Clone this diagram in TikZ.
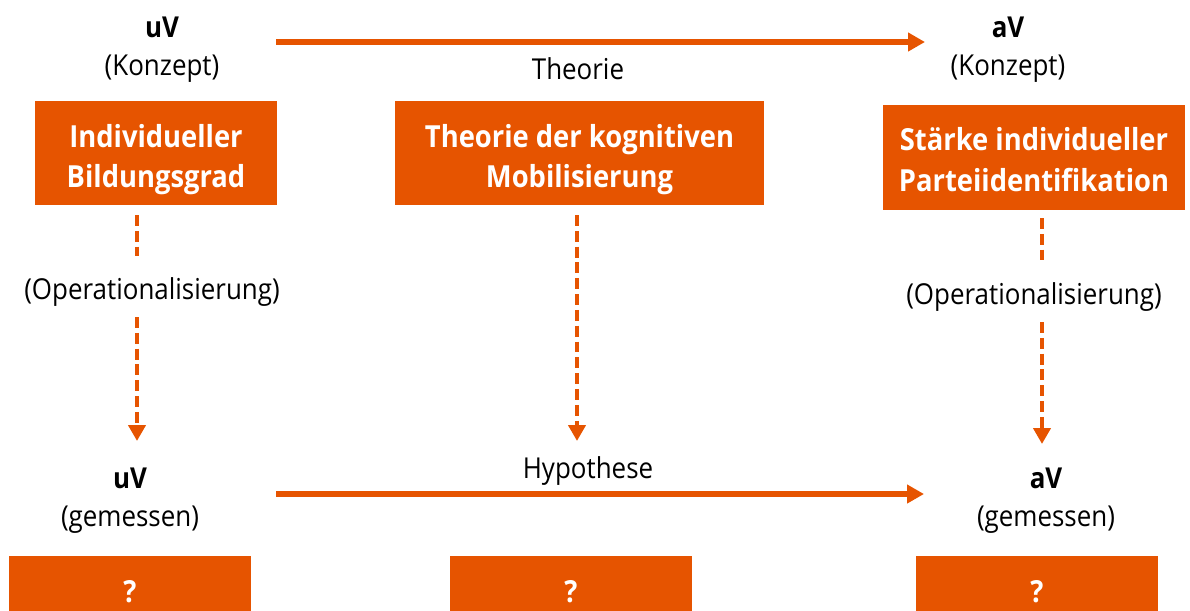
\documentclass[tikz,border=0pt]{standalone}
\usepackage{fontspec}
\setmainfont[FakeStretch=0.9]{Open Sans}
\usetikzlibrary{arrows.meta}
\definecolor{uniorange}{RGB}{230,84,0}

\begin{document}
\begin{tikzpicture}[
		x=0.02cm, y=-0.02cm,
		every node/.style={inner sep=0pt, font=\fontsize{16.4}{23}\selectfont},
		var/.style={font=\fontsize{16.4}{23}\selectfont\bfseries},
		box/.style={fill=uniorange},
		boxtxt/.style={text=white, align=center, font=\fontsize{17.3}{23}\selectfont\bfseries},
		qbox/.style={box, text=white, minimum width=4.84cm, minimum height=1.44cm, font=\fontsize{17.3}{23}\selectfont\bfseries},
		arr/.style={uniorange, line width=3.4pt, -{Triangle[length=0.34cm,width=0.36cm]}},
		darr/.style={uniorange, line width=2.5pt, dash pattern=on 6.2pt off 2.8pt, -{Triangle[length=0.32cm,width=0.34cm]}},
		dline/.style={uniorange, line width=2.5pt, dash pattern=on 6.2pt off 2.8pt}
		]
		\useasboundingbox (0,0) rectangle (1190,610);
		
		% Konzept-Ebene
		\node[var] (uvk) at (162,27) {uV};
		\node (uvkt) at (162,69) {(Konzept)};
		\node[var] (avk) at (1008,27) {aV};
		\node (avkt) at (1008,69) {(Konzept)};
		\node (theo) at (578,69) {Theorie};
		
		\node[box, minimum width=4.84cm, minimum height=2.08cm] (bild) at (156,153) {};
		\node[box, minimum width=7.38cm, minimum height=2.08cm] (mob) at (579.5,153) {};
		\node[box, minimum width=6.04cm, minimum height=2.1cm] (partei) at (1034,157.5) {};
		\node[boxtxt] (bildt) at ([yshift=-3.6pt]bild.center) {Individueller\\Bildungsgrad};
		\node[boxtxt] (mobt) at ([yshift=-3.6pt]mob.center) {Theorie der kognitiven\\Mobilisierung};
		\node[boxtxt] (parteit) at ([yshift=-1.2pt]partei.center) {Stärke individueller\\Parteiidentifikation};
		
		% Operationalisierung
		\node (opl) at (152,292) {(Operationalisierung)};
		\node (opr) at (1034,297) {(Operationalisierung)};
		
		% gemessene Ebene
		\node[var] (uvm) at (130,478) {uV};
		\node (uvmt) at (130,520) {(gemessen)};
		\node[var] (avm) at (1046,478) {aV};
		\node (avmt) at (1046,520) {(gemessen)};
		\node (hyp) at (588,471) {Hypothese};
		
		\node[qbox] (q1) at (130,592) {?};
		\node[qbox] (q2) at (571,592) {?};
		\node[qbox] (q3) at (1037,592) {?};
		
		% Verbindungen
		\coordinate (ts) at (276,42);
		\coordinate (te) at (925,42);
		\coordinate (hs) at (276,494);
		\coordinate (he) at (924,494);
		\draw[arr] (ts) -- (te);
		\draw[arr] (hs) -- (he);
		
		\coordinate (l1) at (137,215);
		\coordinate (l2) at (137,256);
		\coordinate (l3) at (137,317);
		\coordinate (l4) at (137,441);
		\draw[dline] (l1) -- (l2);
		\draw[darr] (l3) -- (l4);
		
		\coordinate (m1) at (577,215);
		\coordinate (m2) at (577,441);
		\draw[darr] (m1) -- (m2);
		
		\coordinate (r1) at (1042,218);
		\coordinate (r2) at (1042,260);
		\coordinate (r3) at (1042,322);
		\coordinate (r4) at (1042,444);
		\draw[dline] (r1) -- (r2);
		\draw[darr] (r3) -- (r4);
	\end{tikzpicture}
\end{document}
